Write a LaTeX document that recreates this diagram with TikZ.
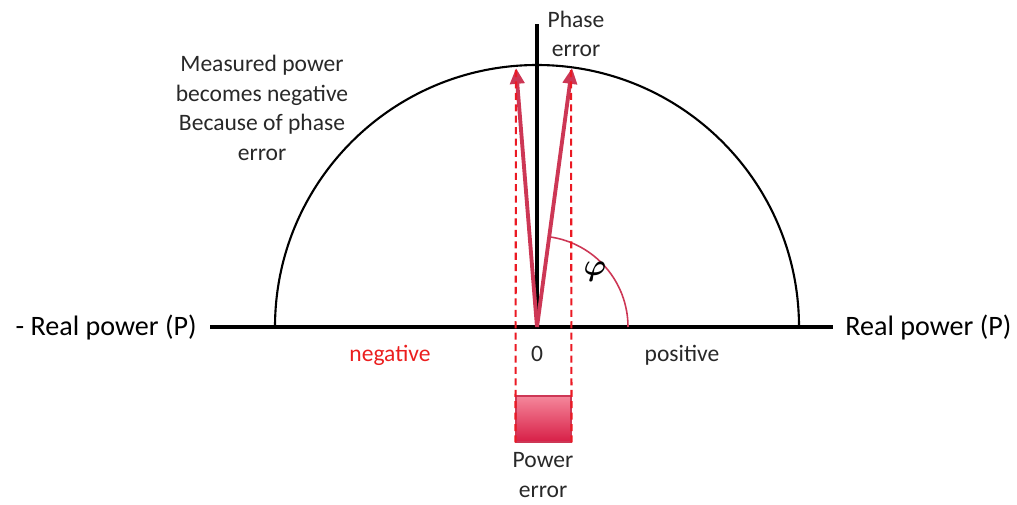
\documentclass[tikz,border=0pt]{standalone}
\usepackage{amsmath}
\usepackage{fontspec}
\setmainfont{Carlito}
\usetikzlibrary{positioning,arrows.meta}
\definecolor{peRed}{RGB}{205,55,85}
\definecolor{peDash}{RGB}{235,25,35}
\definecolor{peNeg}{RGB}{235,30,30}
\definecolor{peText}{RGB}{40,40,40}
\definecolor{peTop}{RGB}{245,135,155}
\definecolor{peBot}{RGB}{215,30,70}

\begin{document}
\begin{tikzpicture}[
    x=0.02cm, y=-0.02cm,
    axis/.style={line width=2.2pt, black},
    vec/.style={-{Triangle[length=9pt,width=8pt]}, line width=2.2pt, peRed},
    guide/.style={dash pattern=on 4pt off 2.5pt, line width=1.2pt, peDash},
    label/.style={font=\fontsize{13.4}{16.8}\selectfont, text=peText, align=center, inner sep=0pt},
    axis note/.style={font=\fontsize{16}{19}\selectfont, text=black, inner sep=0pt}
]
  \useasboundingbox (0,0) rectangle (1017,504);

  \coordinate (o) at (537,327);
  \coordinate (xl) at (210,327);
  \coordinate (xr) at (833,327);
  \coordinate (yt) at (537,24);
  \coordinate (tipL) at (516,68);
  \coordinate (tipR) at (572,68);
  \coordinate (dl) at (516,70);
  \coordinate (dr) at (571,70);

  % half circle and axes
  \draw[line width=1.2pt] (275,327) arc[start angle=180, end angle=360, radius=262];
  \draw[axis] (xl) -- (xr);
  \draw[axis] (o) -- (yt);

  % angle
  \draw[peRed, line width=0.9pt] (628,327) arc[start angle=0, end angle=-82, radius=91];
  \node (phi) at (595,272) {\fontsize{17}{17}\selectfont$\boldsymbol{\varphi}$};

  % vectors
  \draw[vec] (o) -- (tipL);
  \draw[vec] (o) -- (tipR);

  % power error box
  \node[rectangle, draw=peRed, line width=0.6pt, top color=peTop, bottom color=peBot,
        minimum width=1.1cm, minimum height=0.92cm, inner sep=0pt] (perr) at (543.5,419) {};
  \draw[guide] (dl) -- (perr.south west);
  \draw[guide] (dr) -- (perr.south east);

  % texts
  \node[label] (phase) at (576,34) {Phase\\error};
  \node[label] (meas) at (262,108) {Measured power\\becomes negative\\Because of phase\\error};
  \node[axis note, anchor=east] (xneg) at (197,327) {- Real power (P)};
  \node[axis note, anchor=west] (xpos) at (845,327) {Real power (P)};
  \node[label, text=peNeg] (neg) at (390,355) {negative};
  \node[label] (zero) at (537,354) {0};
  \node[label] (pos) at (682,355) {positive};
  \node[label] (perrtext) at (543,475) {Power\\error};
\end{tikzpicture}
\end{document}
